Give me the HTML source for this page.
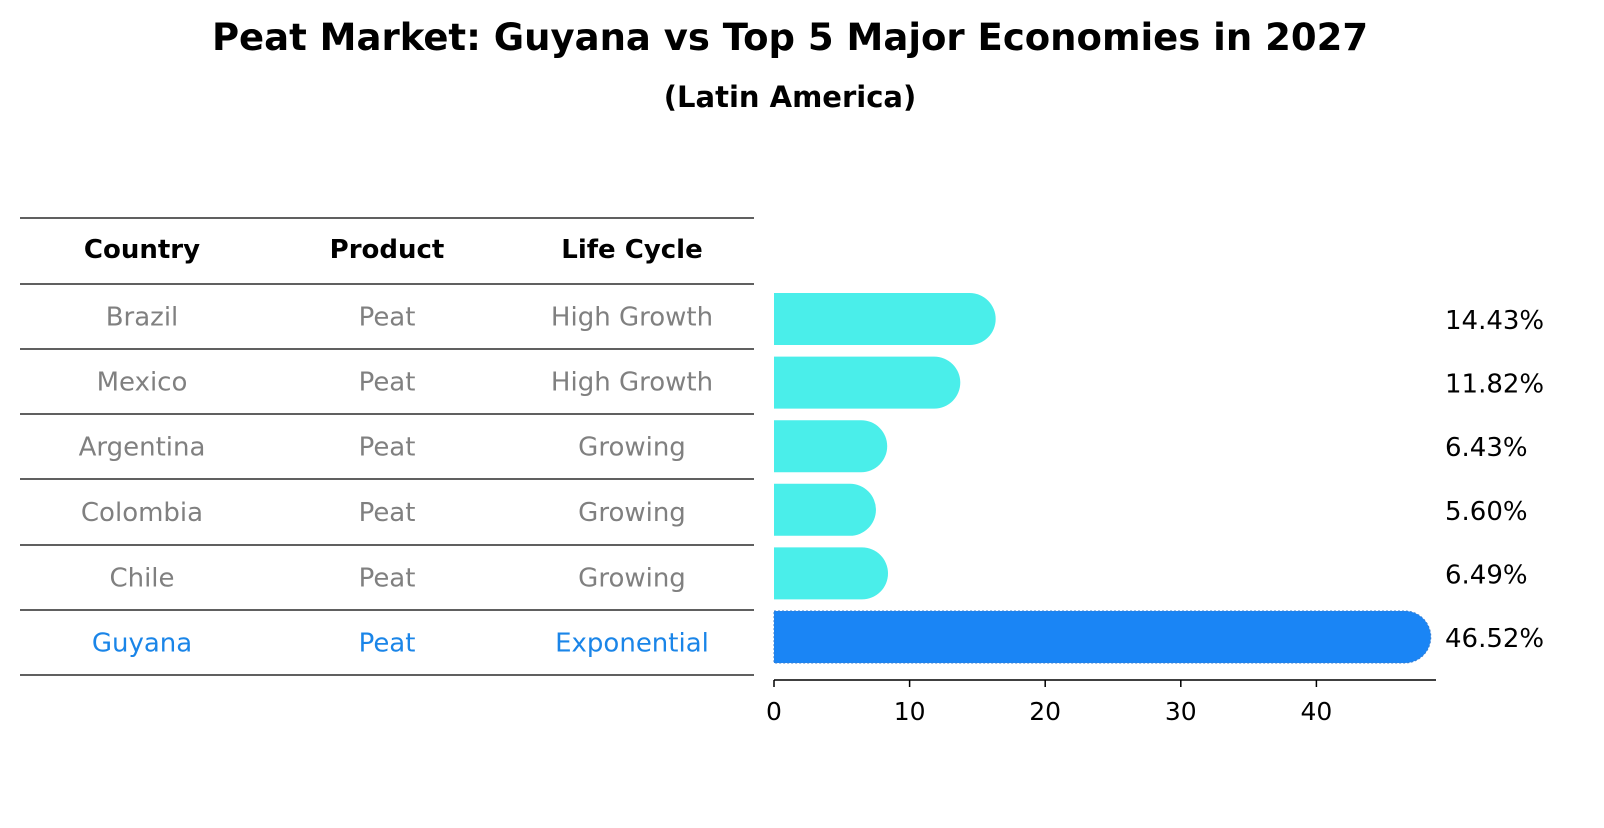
<!DOCTYPE html>
<html><head><meta charset="utf-8"><style>
body{margin:0;background:#fff;font-family:"Liberation Sans","DejaVu Sans",sans-serif}
</style></head><body>
<svg width="1604" height="823" viewBox="0 0 1604 823" xmlns="http://www.w3.org/2000/svg" font-family="DejaVu Sans, Liberation Sans, sans-serif">
<text x="790" y="50" text-anchor="middle" font-size="37" font-weight="bold">Peat Market: Guyana vs Top 5 Major Economies in 2027</text>
<text x="790" y="107" text-anchor="middle" font-size="29" font-weight="bold">(Latin America)</text>
<g id="table"></g>
<g id="bars"></g>
</svg>
<script>
const countries=["Brazil","Mexico","Argentina","Colombia","Chile","Guyana"];
const products=["Peat","Peat","Peat","Peat","Peat","Peat"];
const lifeCycles=["High Growth","High Growth","Growing","Growing","Growing","Exponential"];
const values=[14.43,11.82,6.43,5.60,6.49,46.52];
const ticks=[0,10,20,30,40];
const NS="http://www.w3.org/2000/svg";
function mk(t,a,p){const e=document.createElementNS(NS,t);for(const k in a)e.setAttribute(k,a[k]);p.appendChild(e);return e;}
const tbl=document.getElementById('table'),bars=document.getElementById('bars');
const lineYs=[218,284,349,414,479,545,610,675];
lineYs.forEach((y,i)=>{const l=mk('line',{x1:20,x2:754,y1:y,y2:y,stroke:'#000','stroke-width':1.3},tbl);

});
const colX=[142,387,632];
["Country","Product","Life Cycle"].forEach((h,i)=>{const t=mk('text',{x:colX[i],y:258,'text-anchor':'middle','font-size':26,'font-weight':'bold'},tbl);t.textContent=h;

});
countries.forEach((c,r)=>{const y=(lineYs[r+1]+lineYs[r+2])/2+9;const col=r===countries.length-1?'#1a85e8':'#808080';
[c,products[r],lifeCycles[r]].forEach((v,i)=>{const t=mk('text',{x:colX[i],y:y,'text-anchor':'middle','font-size':26,fill:col},tbl);t.textContent=v;

});});
const x0=774,ppu=13.56;const xs=v=>x0+v*ppu;
const rowY=i=>319+i*63.6;const h=52,rr=26;
values.forEach((v,i)=>{const cy=rowY(i),xe=xs(v);const g=i===values.length-1;
const p=mk('path',{d:`M${x0},${cy-h/2}H${xe}A${rr},${rr} 0 0 1 ${xe},${cy+h/2}H${x0}Z`,fill:g?'#1a85f5':'#4aeeea',stroke:g?'#3a7fd0':'none','stroke-dasharray':g?'2,2':'none'},bars);


const t=mk('text',{x:1445,y:cy+10,'font-size':26},bars);t.textContent=v.toFixed(2)+'%';

});
const ax=mk('line',{x1:x0,x2:1436,y1:680,y2:680,stroke:'#000','stroke-width':1.5},bars);


ticks.forEach(t=>{const tk=mk('line',{x1:xs(t),x2:xs(t),y1:680,y2:687,stroke:'#000','stroke-width':1.5},bars);


const l=mk('text',{x:xs(t),y:720,'text-anchor':'middle','font-size':25},bars);l.textContent=t;

});
</script>
</body></html>
